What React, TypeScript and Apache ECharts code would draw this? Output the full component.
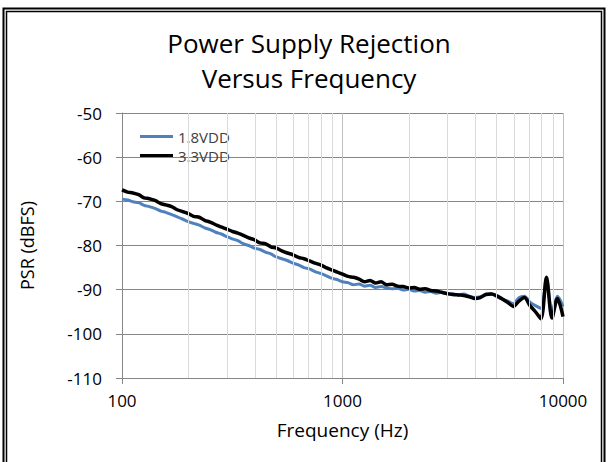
import React, { useEffect, useRef } from "react";
import * as echarts from "echarts";

const titleLines = ["Power Supply Rejection", "Versus Frequency"];
const seriesNames = ["1.8VDD", "3.3VDD"];
const freqs = [
  100, 106, 112, 119, 126, 133, 141, 150, 158, 168, 178, 188, 200, 211, 224, 237, 251, 266, 282, 299,
  316, 335, 355, 376, 398, 422, 447, 473, 501, 531, 562, 596, 631, 668, 708, 750, 794, 841, 891, 944,
  1000, 1059, 1122, 1189, 1259, 1334, 1413, 1496, 1585, 1679, 1778, 1884, 1995, 2113, 2239, 2371, 2512, 2661, 2818, 2985,
  3162, 3350, 3548, 3758, 3981, 4217, 4467, 4732, 5012, 5309, 5623, 5957, 6310, 6683, 7079, 7499, 7943, 8414, 8913, 9441,
  10000,
];
const psr18 = [
  -69.5, -69.7, -70.1, -70.3, -70.9, -71.2, -71.6, -72.2, -72.5, -73.0, -73.5, -74.0, -74.6, -75.0, -75.4, -76.0, -76.4, -77.0, -77.4, -78.0,
  -78.5, -78.9, -79.6, -80.0, -80.6, -80.9, -81.5, -81.9, -82.6, -83.0, -83.4, -84.0, -84.4, -85.0, -85.3, -85.9, -86.3, -86.8, -87.4, -87.7,
  -88.2, -88.4, -88.9, -88.7, -89.2, -89.0, -89.5, -89.3, -89.6, -89.8, -89.7, -90.1, -89.9, -90.3, -90.2, -90.6, -90.4, -90.8, -90.6, -91.0,
  -90.9, -91.2, -91.0, -91.5, -91.8, -91.6, -91.0, -90.9, -91.6, -92.2, -92.6, -93.2, -91.8, -91.5, -92.8, -93.6, -94.2, -87.8, -94.8, -91.5,
  -93.8,
];
const psr33 = [
  -67.4, -67.9, -68.1, -68.5, -69.2, -69.4, -69.8, -70.5, -70.8, -71.2, -71.9, -72.3, -72.8, -73.4, -73.6, -74.3, -74.7, -75.3, -75.8, -76.3,
  -76.8, -77.2, -77.7, -78.3, -78.7, -79.4, -79.6, -80.3, -80.6, -81.2, -81.7, -82.1, -82.7, -83.0, -83.5, -84.0, -84.4, -85.0, -85.5, -86.0,
  -86.5, -87.0, -87.2, -87.6, -88.2, -87.9, -88.5, -88.2, -88.9, -88.8, -89.2, -89.3, -89.6, -89.5, -89.9, -89.8, -90.2, -90.3, -90.6, -90.9,
  -91.1, -91.2, -91.3, -91.6, -92.0, -91.8, -91.1, -91.0, -91.4, -92.1, -92.9, -93.8, -92.6, -91.8, -93.6, -95.0, -96.6, -87.2, -96.4, -92.0,
  -96.1,
];
const minorGridFreqs = [200, 300, 400, 500, 600, 700, 800, 900, 2000, 3000, 4000, 5000, 6000, 7000, 8000, 9000];
const yMin = -110;
const yMax = -50;
const yStep = 10;
const xMin = 100;
const xMax = 10000;

const FONT = "'Open Sans', sans-serif";

export default function App() {
  const ref = useRef<HTMLDivElement>(null);
  useEffect(() => {
    document.body.style.margin = "0";
    const chart = echarts.init(ref.current!, null, { renderer: "svg" });
    chart.setOption({
      animation: false,
      backgroundColor: "#ffffff",
      textStyle: { fontFamily: FONT },
      title: {
        text: titleLines.join("\n"),
        left: 304,
        textAlign: "center",
        top: 20,
        textStyle: { fontFamily: FONT, fontSize: 26, fontWeight: "normal", color: "#000", lineHeight: 35 },
      },
      graphic: [
        { type: "rect", shape: { x: 3.5, y: 8.5, width: 601, height: 500 }, style: { fill: "none", stroke: "#000", lineWidth: 2 }, silent: true },
        { type: "rect", shape: { x: 6.5, y: 11.5, width: 595, height: 500 }, style: { fill: "none", stroke: "#000", lineWidth: 1.5 }, silent: true },
      ],
      legend: {
        data: seriesNames,
        orient: "vertical",
        left: 135,
        top: 124,
        icon: "rect",
        itemWidth: 33,
        itemHeight: 3,
        itemGap: 4,
        textStyle: { fontFamily: FONT, fontSize: 15, color: "#404040", padding: [0, 0, 0, 0] },
      },
      grid: { left: 122, right: 45, top: 113, bottom: 84 },
      xAxis: {
        type: "log",
        logBase: 10,
        min: xMin,
        max: xMax,
        name: "Frequency (Hz)",
        nameLocation: "middle",
        nameGap: 42,
        nameTextStyle: { fontFamily: FONT, fontSize: 19, color: "#000" },
        axisLine: { show: true, lineStyle: { color: "#868686", width: 1 } },
        axisTick: { show: true, length: 6, lineStyle: { color: "#868686" } },
        axisLabel: { fontFamily: FONT, fontSize: 17, color: "#000", margin: 14, formatter: (v: number) => String(Math.round(v)) },
        splitLine: { show: true, lineStyle: { color: "#bfbfbf", width: 1 } },
        minorTick: { show: false },
      },
      yAxis: {
        type: "value",
        min: yMin,
        max: yMax,
        interval: yStep,
        name: "PSR (dBFS)",
        nameLocation: "middle",
        nameGap: 86,
        nameTextStyle: { fontFamily: FONT, fontSize: 18, color: "#000" },
        axisLine: { show: true, lineStyle: { color: "#868686", width: 1 } },
        axisTick: { show: true, length: 6, lineStyle: { color: "#868686" } },
        axisLabel: { fontFamily: FONT, fontSize: 17, color: "#000", margin: 20 },
        splitLine: { show: true, lineStyle: { color: "#868686", width: 1 } },
      },
      series: [
        {
          name: "grid",
          type: "line",
          data: [],
          z: 1,
          silent: true,
          markLine: {
            silent: true,
            symbol: ["none", "none"],
            label: { show: false },
            lineStyle: { color: "#d9d9d9", width: 1, type: "solid" },
            data: minorGridFreqs.map((f) => ({ xAxis: f })),
          },
        },
        {
          name: seriesNames[0],
          type: "line",
          data: freqs.map((f, i) => [f, psr18[i]]),
          symbol: "none",
          smooth: 0.3,
          z: 3,
          itemStyle: { color: "#4f81bd" },
          lineStyle: { color: "#4f81bd", width: 3 },
        },
        {
          name: seriesNames[1],
          type: "line",
          data: freqs.map((f, i) => [f, psr33[i]]),
          symbol: "none",
          smooth: 0.3,
          z: 4,
          itemStyle: { color: "#000000" },
          lineStyle: { color: "#000000", width: 3.5 },
        },
      ],
    });
    return () => chart.dispose();
  }, []);
  return <div ref={ref} style={{ width: 608, height: 462 }} />;
}
